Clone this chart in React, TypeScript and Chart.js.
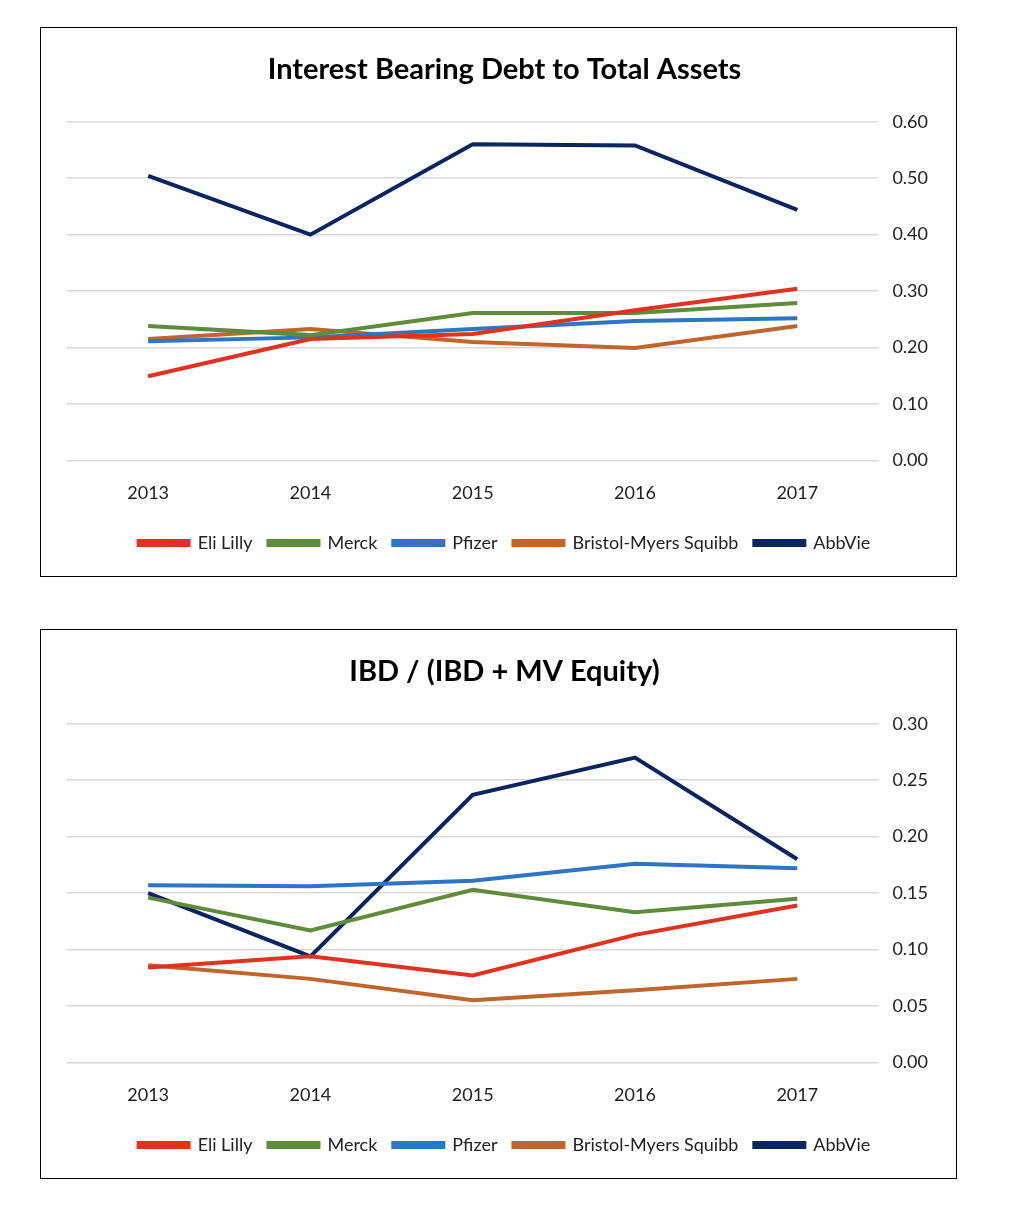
import React, { useEffect, useRef } from "react";
import { Chart, registerables } from "chart.js";
Chart.register(...registerables);

const years = ["2013", "2014", "2015", "2016", "2017"];
const names = ["Eli Lilly", "Merck", "Pfizer", "Bristol-Myers Squibb", "AbbVie"];
const colors = ["#E0321F", "#5E8C3A", "#2E75C6", "#C0652B", "#0B2561"];

const debtLilly = [0.149, 0.215, 0.224, 0.266, 0.304];
const debtMerck = [0.238, 0.222, 0.261, 0.261, 0.279];
const debtPfizer = [0.211, 0.218, 0.233, 0.247, 0.252];
const debtBms = [0.215, 0.233, 0.21, 0.199, 0.238];
const debtAbbvie = [0.504, 0.4, 0.56, 0.558, 0.444];

const ibdLilly = [0.084, 0.094, 0.077, 0.113, 0.139];
const ibdMerck = [0.146, 0.117, 0.153, 0.133, 0.145];
const ibdPfizer = [0.157, 0.156, 0.161, 0.176, 0.172];
const ibdBms = [0.086, 0.074, 0.055, 0.064, 0.074];
const ibdAbbvie = [0.15, 0.094, 0.237, 0.27, 0.18];

const FONT = "Lato, 'Open Sans', sans-serif";

function LineChart({ title, series, max, step }: { title: string; series: number[][]; max: number; step: number }) {
  const ref = useRef<HTMLCanvasElement>(null);
  useEffect(() => {
    const chart = new Chart(ref.current!, {
      type: "line",
      data: {
        labels: years,
        datasets: series.map((d, i) => ({
          label: names[i],
          data: d,
          borderColor: colors[i],
          backgroundColor: colors[i],
          borderWidth: 4,
          pointRadius: 0,
          tension: 0,
        })),
      },
      options: {
        animation: false,
        responsive: false,
        layout: { padding: { left: 26, right: 14, top: 10, bottom: 14 } },
        plugins: {
          title: {
            display: true,
            text: title,
            color: "#000",
            font: { family: FONT, size: 29, weight: "bold" },
            padding: { top: 14, bottom: 35 },
          },
          legend: {
            position: "bottom",
            labels: {
              color: "#222",
              font: { family: FONT, size: 18 },
              boxWidth: 50,
              boxHeight: 4,
              padding: 16,
            },
          },
          tooltip: { enabled: false },
        },
        scales: {
          x: {
            offset: true,
            grid: { display: false },
            border: { display: false },
            ticks: { color: "#222", font: { family: FONT, size: 18 }, padding: 14 },
          },
          y: {
            position: "right",
            min: 0,
            max,
            ticks: {
              stepSize: step,
              color: "#222",
              font: { family: FONT, size: 18 },
              padding: 14,
              callback: (v: any) => Number(v).toFixed(2),
            },
            grid: { color: "#D9D9D9", lineWidth: 1.5, drawTicks: false },
            border: { display: false },
          },
        },
      },
    });
    return () => chart.destroy();
  }, []);
  return (
    <div style={{ width: 915, height: 548, border: "1px solid #000", marginLeft: 32 }}>
      <canvas ref={ref} width={915} height={548} />
    </div>
  );
}

export default function App() {
  return (
    <div style={{ paddingTop: 19, background: "#fff" }}>
      <LineChart
        title="Interest Bearing Debt to Total Assets"
        series={[debtLilly, debtMerck, debtPfizer, debtBms, debtAbbvie]}
        max={0.6}
        step={0.1}
      />
      <div style={{ height: 52 }} />
      <LineChart
        title="IBD / (IBD + MV Equity)"
        series={[ibdLilly, ibdMerck, ibdPfizer, ibdBms, ibdAbbvie]}
        max={0.3}
        step={0.05}
      />
    </div>
  );
}
